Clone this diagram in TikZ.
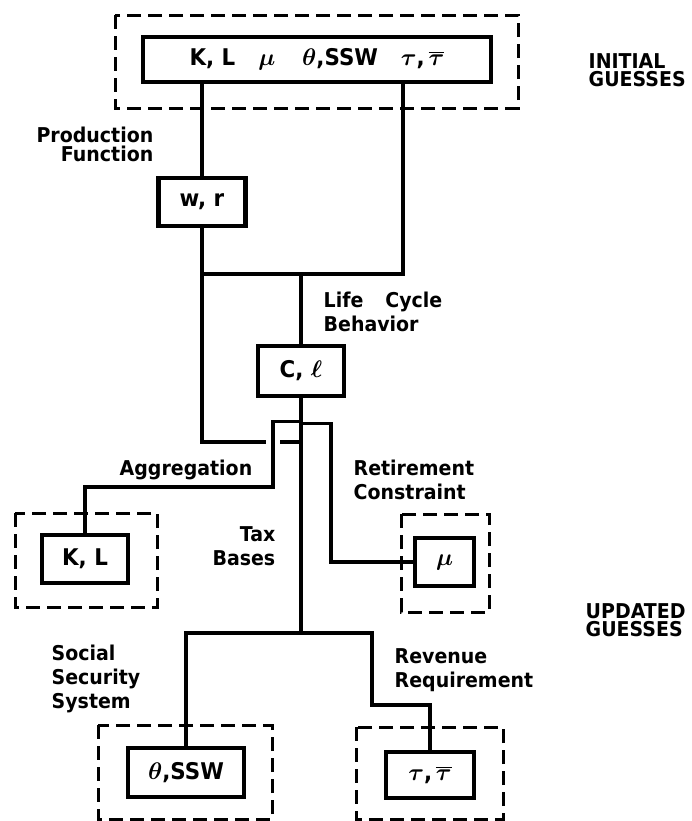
\documentclass[tikz,border=0pt]{standalone}
\usepackage{fontspec}
\setmainfont[FakeStretch=0.93,BoldFont={DejaVu Sans Bold}]{DejaVu Sans}

\begin{document}
\begin{tikzpicture}[x=.5pt,y=-.5pt,line width=1.7pt,
    font=\fontsize{10.2}{12}\selectfont\bfseries\boldmath,
    box/.style={draw,line width=2.4pt,inner sep=0pt,font=\fontsize{11.5}{13}\selectfont\bfseries\boldmath},
    dashbox/.style={line width=1.5pt,dash pattern=on 7pt off 3.5pt},
    lbl/.style={inner sep=0pt,align=left,anchor=north west},
    lblr/.style={inner sep=0pt,align=right,anchor=north east}]
    \useasboundingbox (0,0) rectangle (692,821);
    % guesses in dashed frames
    \foreach \xa/\ya/\xb/\yb in {115/15/518/108,15/513/157/607,401/514/489/612,98/725/272/819,356/727/503/819}
      \draw[dashbox] (\xa,\ya) rectangle (\xb,\yb);
    \node[box,minimum width=174pt,minimum height=22.5pt] (initbox) at (317,59.5)
      {K, L\quad$\mu$\quad\,$\theta$,SSW\quad$\tau$,\,$\overline{\tau}$\hspace{14pt}};
    \node[box,minimum width=43.5pt,minimum height=24pt] (wr) at (202,202) {w, r};
    \node[box,minimum width=43pt,minimum height=25pt] (cl) at (301,371) {C, $\ell$};
    \node[box,minimum width=43pt,minimum height=24pt] (kl) at (85,559) {K, L};
    \node[box,minimum width=29.5pt,minimum height=24pt] (mu) at (444.5,562) {$\mu$};
    \node[box,minimum width=58pt,minimum height=24.5pt] (ssw) at (186,772.5) {$\theta$,SSW};
    \node[box,minimum width=44pt,minimum height=23pt] (tau) at (430,775) {$\tau$,\,$\overline{\tau}$};
    % labels
    \node[lbl,font=\fontsize{10.2}{9}\selectfont\bfseries] (initlbl) at (587,52) {INITIAL\\GUESSES};
    \node[lbl,font=\fontsize{10.2}{9}\selectfont\bfseries] (updlbl) at (584,602) {UPDATED\\GUESSES};
    \node[lblr,font=\fontsize{10.2}{9.5}\selectfont\bfseries] (prodlbl) at (155,125) {Production\\Function};
    \node[lbl] (lifelbl) at (322,290) {Life\hspace{11pt}Cycle\\Behavior};
    \node[lbl] (aggrlbl) at (118,458) {Aggregation};
    \node[lbl] (retlbl) at (352,458) {Retirement\\Constraint};
    \node[lblr] (taxlbl) at (277,525) {Tax\\Bases};
    \node[lbl] (sslbl) at (50,643) {Social\\Security\\System};
    \node[lbl] (revlbl) at (393,647) {Revenue\\Requirement};
    % connectors
    \coordinate (rail) at (403,274);
    \coordinate (hop) at (273,442);
    \coordinate (aggr) at (273,487);
    \coordinate (ret) at (331,562);
    \coordinate (tax) at (301,633);
    \coordinate (rev) at (372,705);
    \draw (initbox.south -| wr.north) -- (wr.north);
    \draw (initbox.south -| rail) -- (rail) -- (wr.south |- rail);
    \draw (cl.north |- rail) -- (cl.north);
    \draw (wr.south) |- ([xshift=-3.5pt]hop);
    \draw ([xshift=3.5pt]hop) -- (cl.south |- hop);
    \draw (cl.south) ++(0,23) -| (aggr) -| (kl.north);
    \draw (cl.south) ++(0,25) -| (ret) -- (mu.west);
    \draw (cl.south) -- (tax);
    \draw (ssw.north) |- (tax) -| (rev) -| (tau.north);
\end{tikzpicture}
\end{document}
